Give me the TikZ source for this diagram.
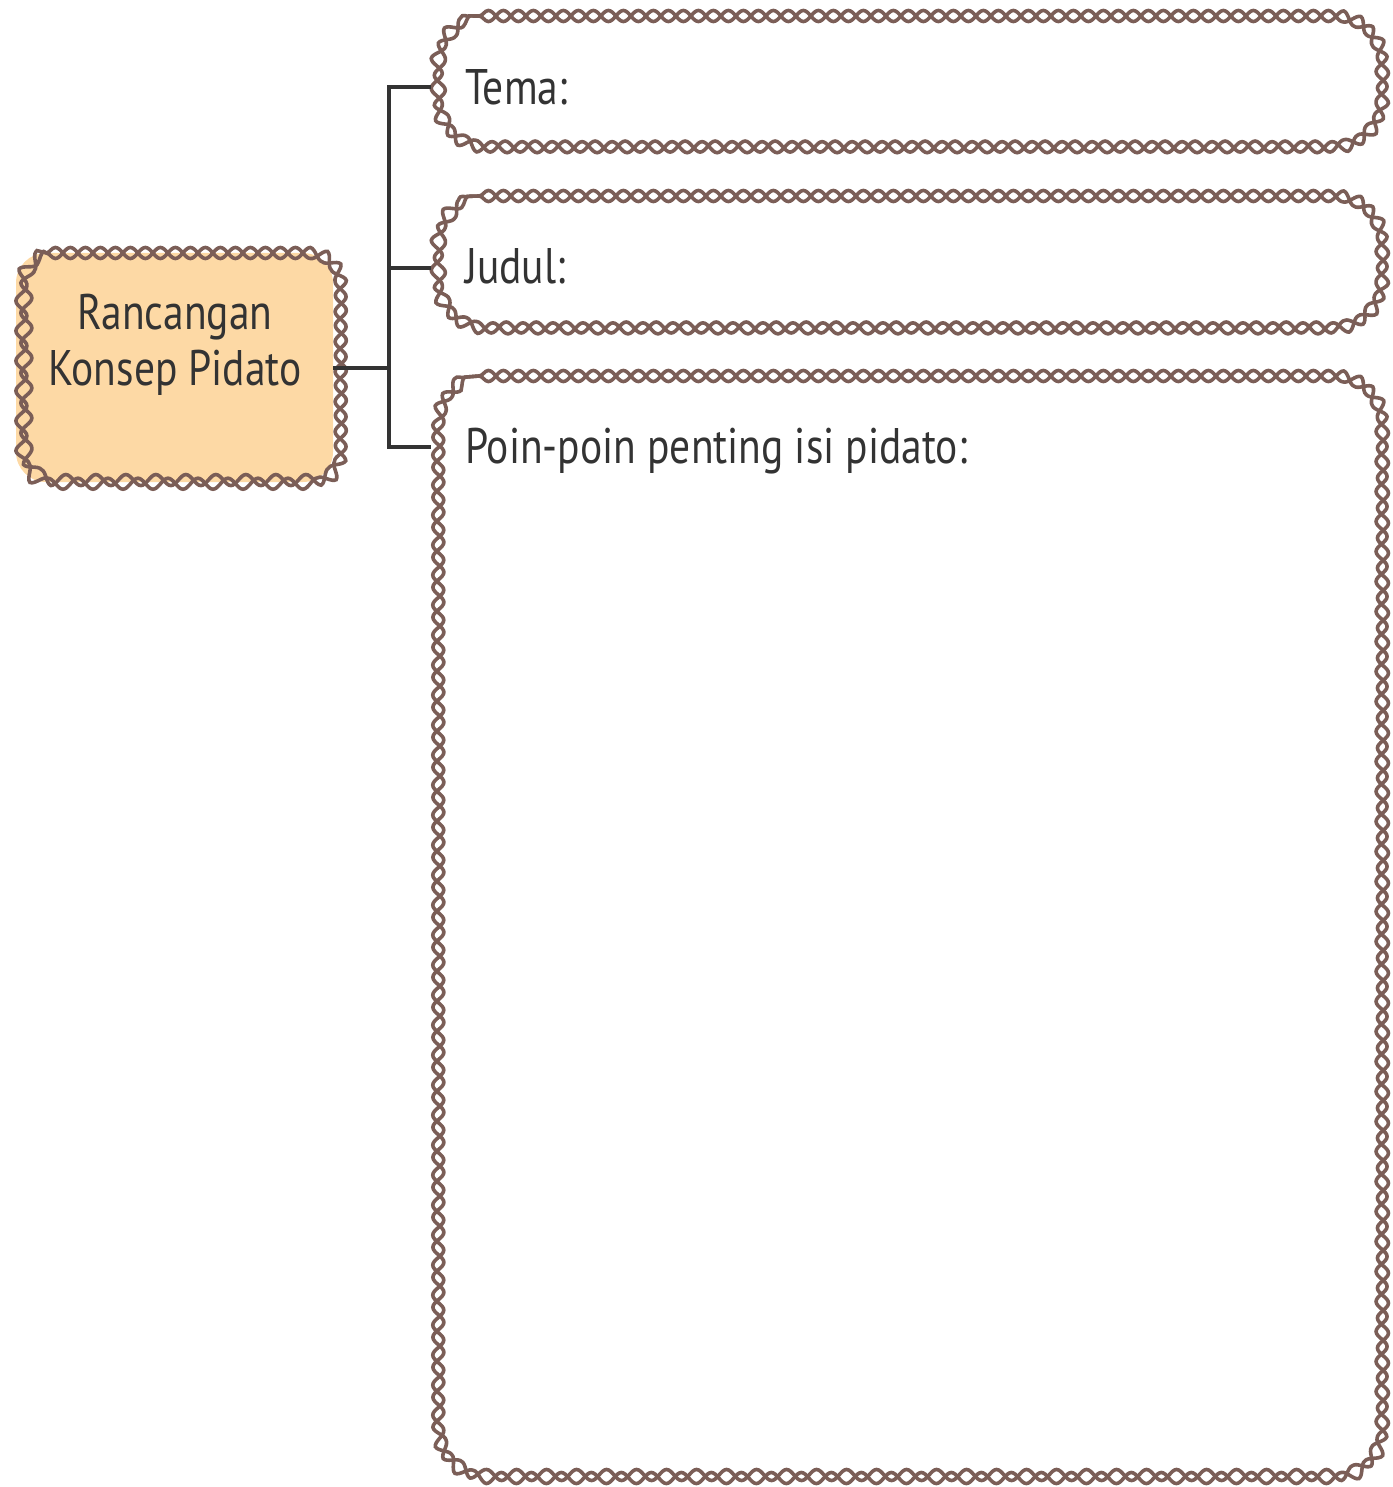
\documentclass[tikz,border=0pt]{standalone}
\usepackage{fontspec}
\setmainfont{PT Sans}[FakeStretch=0.83]
\usetikzlibrary{decorations.pathmorphing}
\definecolor{chain}{HTML}{7B5E57}
\definecolor{peach}{HTML}{FDD9A5}
\definecolor{ink}{HTML}{333333}
\tikzset{
  chainA/.style={draw=chain, line width=3.6pt, decorate,
    decoration={snake, segment length=30pt, amplitude=5.5pt}},
  chainB/.style={draw=chain, line width=3.6pt, decorate,
    decoration={snake, segment length=30pt, amplitude=5.5pt, mirror}},
  boxshape/.style={inner sep=0pt, outer sep=0pt},
  lbl/.style={font=\fontsize{50}{55}\selectfont, text=ink, inner sep=0pt, anchor=base west},
  ctr/.style={font=\fontsize{50}{55}\selectfont, text=ink, inner sep=0pt, anchor=base},
  conn/.style={draw=ink, line width=4pt},
}
% rounded rectangle border of node #1 with corner radius #2 (pt), style #3
\newcommand{\chainrect}[3]{%
  \path[#3] ([xshift=#2pt]#1.north west) -- ([xshift=-#2pt]#1.north east)
    arc[start angle=90, end angle=0, radius=#2pt]
    -- ([yshift=#2pt]#1.south east)
    arc[start angle=0, end angle=-90, radius=#2pt]
    -- ([xshift=#2pt]#1.south west)
    arc[start angle=-90, end angle=-180, radius=#2pt]
    -- ([yshift=-#2pt]#1.north west)
    arc[start angle=180, end angle=90, radius=#2pt] -- cycle;}
\begin{document}
\begin{tikzpicture}[x=1pt,y=-1pt]
\useasboundingbox (0,0) rectangle (1392,1487);
% boxes
\node[boxshape, fill=peach, rounded corners=30pt, minimum width=317pt, minimum height=229pt] (main) at (174.5,367.5) {};
\node[boxshape, minimum width=944pt, minimum height=131pt] (tema) at (903,81.5) {};
\node[boxshape, minimum width=944pt, minimum height=132pt] (judul) at (903,262) {};
\node[boxshape, minimum width=944pt, minimum height=1101pt] (poin) at (903,926.5) {};
% chain borders
\chainrect{main}{30}{chainA}
\chainrect{main}{30}{chainB}
\chainrect{tema}{48}{chainA}
\chainrect{tema}{48}{chainB}
\chainrect{judul}{48}{chainA}
\chainrect{judul}{48}{chainB}
\chainrect{poin}{48}{chainA}
\chainrect{poin}{48}{chainB}
% texts
\node[ctr] (mainA) at (175,330) {Rancangan};
\node[ctr] (mainB) at (175,385) {Konsep Pidato};
\node[lbl] (temat) at (465,105) {Tema:};
\node[lbl] (judult) at (465,284) {Judul:};
\node[lbl] (point) at (465,463) {Poin-poin penting isi pidato:};
% connectors
\coordinate (trunk) at (389,367.5);
\draw[conn] (main.east) -- (trunk);
\draw[conn] (trunk) |- ([yshift=-5.5pt]tema.west);
\draw[conn] (trunk) |- ([yshift=-6pt]judul.west);
\draw[conn] (trunk) |- ([yshift=-71pt]poin.north west);
\end{tikzpicture}
\end{document}
